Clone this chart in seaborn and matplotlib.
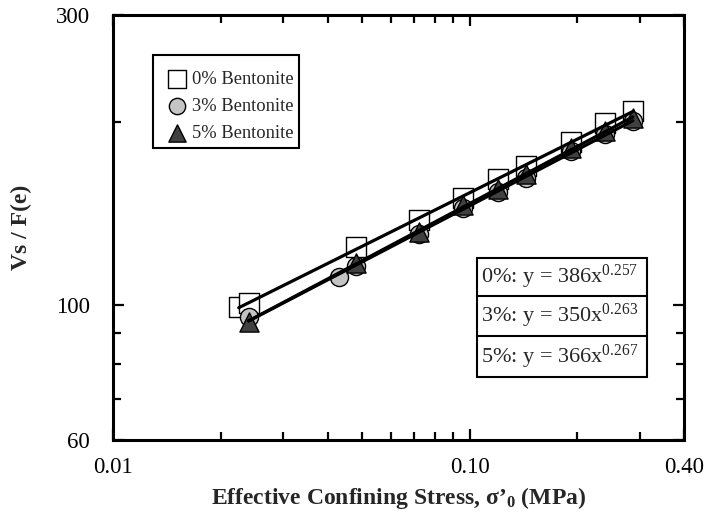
import numpy as np
import matplotlib
matplotlib.use("Agg")
import matplotlib.pyplot as plt
import seaborn as sns
from matplotlib.ticker import FixedLocator, NullFormatter, FixedFormatter
from matplotlib.patches import Rectangle

# ---------------- data ----------------
x0 = [0.0225, 0.024, 0.048, 0.072, 0.096, 0.12, 0.144, 0.192, 0.24, 0.287]
y0 = [99.4, 100.9, 124.5, 137.9, 150.0, 161.0, 169.5, 185.5, 199.0, 208.5]

x3 = [0.024, 0.043, 0.048, 0.072, 0.096, 0.12, 0.144, 0.192, 0.24, 0.287]
y3 = [95.5, 111.2, 116.0, 131.0, 144.5, 153.5, 162.0, 179.0, 191.0, 201.0]

x5 = [0.024, 0.048, 0.072, 0.096, 0.12, 0.144, 0.192, 0.24, 0.287]
y5 = [94.0, 117.5, 132.0, 146.0, 155.0, 164.0, 181.0, 193.0, 203.0]

series_labels = ["0% Bentonite", "3% Bentonite", "5% Bentonite"]
equations = ["0%: y = 386x$^{0.257}$", "3%: y = 350x$^{0.263}$", "5%: y = 366x$^{0.267}$"]

x_major = [0.01, 0.1, 0.4]
x_major_labels = ["0.01", "0.10", "0.40"]
x_minor = [0.02, 0.03, 0.04, 0.05, 0.06, 0.07, 0.08, 0.09, 0.2, 0.3]
y_major = [60, 100, 300]
y_major_labels = ["60", "100", "300"]
y_minor = [70, 80, 90, 200]

# ---------------- style ----------------
sns.set_style("ticks")
plt.rcParams["font.family"] = ["Liberation Serif", "DejaVu Serif"]
plt.rcParams["mathtext.fontset"] = "custom"
plt.rcParams["mathtext.rm"] = "Liberation Serif"
plt.rcParams["mathtext.it"] = "Liberation Serif:italic"
plt.rcParams["mathtext.bf"] = "Liberation Serif:bold"

fig = plt.figure(figsize=(7.12, 5.13), dpi=100)
ax = fig.add_axes([0.159, 0.142, 0.802, 0.829])
ax.set_xscale("log")
ax.set_yscale("log")

styles = [
    dict(marker="s", color="white", s=190),
    dict(marker="o", color="#c4c4c4", s=170),
    dict(marker="^", color="#404040", s=190),
]
data = [(x0, y0), (x3, y3), (x5, y5)]

for (xs, ys), st, lab in zip(data, styles, series_labels):
    sns.scatterplot(x=xs, y=ys, ax=ax, marker=st["marker"], color=st["color"],
                    s=st["s"], edgecolor="black", linewidth=1.0, label=lab, zorder=3)

# power-law fits (regression in log space)
for xs, ys in data:
    lx, ly = np.log10(xs), np.log10(ys)
    b, a = np.polyfit(lx, ly, 1)
    xf = np.array([min(xs), max(xs)])
    yf = 10 ** (a + b * np.log10(xf))
    sns.lineplot(x=xf, y=yf, ax=ax, color="black", linewidth=2.3, zorder=4,
                 legend=False)

ax.set_xlim(0.01, 0.4)
ax.set_ylim(60, 300)

ax.xaxis.set_major_locator(FixedLocator(x_major))
ax.xaxis.set_major_formatter(FixedFormatter(x_major_labels))
ax.xaxis.set_minor_locator(FixedLocator(x_minor))
ax.xaxis.set_minor_formatter(NullFormatter())
ax.yaxis.set_major_locator(FixedLocator(y_major))
ax.yaxis.set_major_formatter(FixedFormatter(y_major_labels))
ax.yaxis.set_minor_locator(FixedLocator(y_minor))
ax.yaxis.set_minor_formatter(NullFormatter())

ax.tick_params(which="both", direction="in", top=True, right=True, width=1.6,
               labelsize=16.5, colors="black")
ax.tick_params(which="major", length=8)
ax.tick_params(which="minor", length=6)
ax.tick_params(axis="x", which="major", pad=12)
ax.tick_params(axis="y", which="major", pad=17)

for sp in ax.spines.values():
    sp.set_linewidth(2.2)
    sp.set_color("black")
    sp.set_visible(True)

ax.set_xlabel("Effective Confining Stress, σ’$_{\\mathbf{0}}$ (MPa)", fontsize=17,
              fontweight="bold", labelpad=5)
ax.set_ylabel("Vs / F(e)", fontsize=17, fontweight="bold", labelpad=17)

# legend (frame drawn separately as a tight box)
leg = ax.legend(loc="upper left", bbox_to_anchor=(0.068, 0.906), borderaxespad=0,
                frameon=False, fontsize=13.3, handletextpad=0.3,
                borderpad=0.85, labelspacing=0.55, handlelength=1.0,
                markerscale=0.9)
ax.add_patch(Rectangle((0.07, 0.687), 0.256, 0.219, transform=ax.transAxes,
                       fill=False, edgecolor="black", linewidth=1.5, zorder=5))

# equation table
tx0, tx1 = 0.6375, 0.935
row_edges = [0.428, 0.339, 0.245, 0.148]
ax.add_patch(Rectangle((tx0, row_edges[-1]), tx1 - tx0, row_edges[0] - row_edges[-1],
                       transform=ax.transAxes, fill=False, edgecolor="black",
                       linewidth=1.5, zorder=5))
for yy in row_edges[1:-1]:
    ax.plot([tx0, tx1], [yy, yy], transform=ax.transAxes, color="black",
            linewidth=1.5, zorder=5)
for i, eq in enumerate(equations):
    ymid = (row_edges[i] + row_edges[i + 1]) / 2
    ax.text(tx0 + 0.006, ymid, eq, transform=ax.transAxes, fontsize=16,
            va="center", ha="left", zorder=6)

fig.savefig("out.png", dpi=100)
